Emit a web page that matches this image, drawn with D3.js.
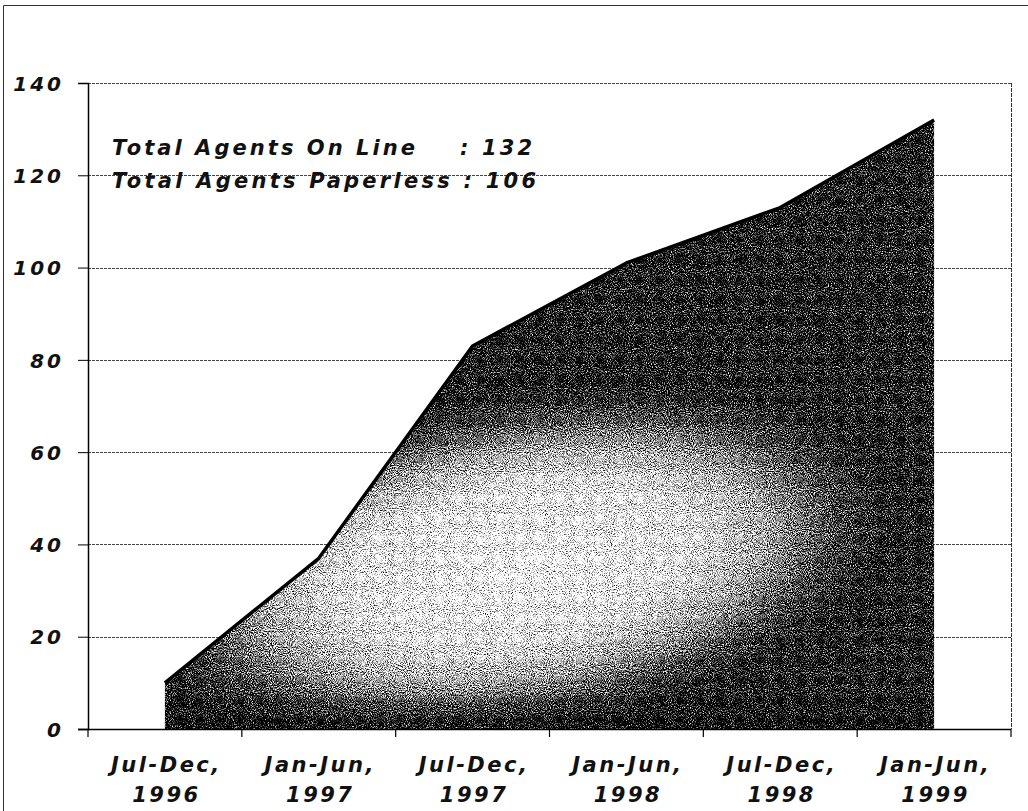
<!DOCTYPE html>
<html>
<head>
<meta charset="utf-8">
<script src="https://cdn.jsdelivr.net/npm/d3@7"></script>
<style>
  html, body { margin: 0; padding: 0; background: #fff; }
  svg { display: block; }
  .lbl { font-family: "DejaVu Sans", sans-serif; font-weight: bold; font-style: oblique; fill: #111; }
</style>
</head>
<body>
<svg id="chart" width="1028" height="811"></svg>
<script>
// Half-year periods and the running count of agents on line
const categories = ["Jul-Dec, 1996", "Jan-Jun, 1997", "Jul-Dec, 1997", "Jan-Jun, 1998", "Jul-Dec, 1998", "Jan-Jun, 1999"];
const agentsOnLine = [10, 37, 83, 101, 113, 132];
const yTicks = [0, 20, 40, 60, 80, 100, 120, 140];
const totalOnLine = 132;
const totalPaperless = 106;

const svg = d3.select("#chart");
const W = 1028, H = 811;
const plot = { left: 88, right: 1011, top: 83, bottom: 729 };

const x = d3.scaleBand().domain(categories).range([plot.left, plot.right]);
const y = d3.scaleLinear().domain([0, 140]).range([plot.bottom, plot.top]);
const cx = d => x(d) + x.bandwidth() / 2;

const defs = svg.append("defs");

// Light, slightly tilted oval low in the middle of the area, dark toward the edges
const grad = defs.append("radialGradient")
  .attr("id", "areaFill")
  .attr("gradientUnits", "userSpaceOnUse")
  .attr("cx", 0).attr("cy", 0).attr("r", 1)
  .attr("gradientTransform", "translate(515,565) rotate(-10) scale(380,168)");
[[0, "#f2f2f2"], [0.45, "#dcdcdc"], [0.65, "#a4a4a4"], [0.85, "#4c4c4c"], [1, "#242424"]]
  .forEach(([o, c]) => grad.append("stop").attr("offset", o).attr("stop-color", c));

// Darker strip along the baseline
const base = defs.append("linearGradient")
  .attr("id", "baseShade")
  .attr("gradientUnits", "userSpaceOnUse")
  .attr("x1", 0).attr("x2", 0).attr("y1", plot.bottom - 40).attr("y2", plot.bottom);
base.append("stop").attr("offset", 0).attr("stop-color", "#000").attr("stop-opacity", 0);
base.append("stop").attr("offset", 1).attr("stop-color", "#000").attr("stop-opacity", 0.5);

// Printed-halftone grain over the fill
const f = defs.append("filter")
  .attr("id", "grain")
  .attr("filterUnits", "userSpaceOnUse")
  .attr("x", 0).attr("y", 0).attr("width", W).attr("height", H)
  .attr("color-interpolation-filters", "sRGB");
f.append("feTurbulence").attr("type", "fractalNoise").attr("baseFrequency", 0.95)
  .attr("numOctaves", 2).attr("seed", 7).attr("result", "noise");
f.append("feColorMatrix").attr("in", "noise").attr("type", "matrix")
  .attr("values", "1 0 0 0 0  1 0 0 0 0  1 0 0 0 0  0 0 0 0 1").attr("result", "gray");
f.append("feComposite").attr("in", "SourceGraphic").attr("in2", "gray")
  .attr("operator", "arithmetic").attr("k1", 0).attr("k2", 1).attr("k3", 2.4).attr("k4", -1.2)
  .attr("result", "mixed");
const ct = f.append("feComponentTransfer").attr("in", "mixed").attr("result", "contrast");
["feFuncR", "feFuncG", "feFuncB"].forEach(fn =>
  ct.append(fn).attr("type", "linear").attr("slope", 1.35).attr("intercept", -0.17));
f.append("feComposite").attr("in", "contrast").attr("in2", "SourceGraphic").attr("operator", "in");

// Outer frame
svg.append("path")
  .attr("d", `M3.5,${H} L3.5,5.5 L${W},5.5`)
  .attr("fill", "none").attr("stroke", "#333").attr("stroke-width", 1);

// Horizontal gridlines
svg.append("g").selectAll("line")
  .data(yTicks.filter(v => v > 0))
  .join("line")
  .attr("x1", plot.left).attr("x2", plot.right)
  .attr("y1", d => Math.round(y(d)) + 0.5).attr("y2", d => Math.round(y(d)) + 0.5)
  .attr("stroke", "#444").attr("stroke-width", 1).attr("stroke-dasharray", "3,1");

// Right edge of the plot
svg.append("line")
  .attr("x1", plot.right + 0.5).attr("x2", plot.right + 0.5)
  .attr("y1", plot.top).attr("y2", plot.bottom)
  .attr("stroke", "#333").attr("stroke-width", 1).attr("stroke-dasharray", "4,1");

// Area
const area = d3.area()
  .x(d => cx(d.cat))
  .y0(y(0))
  .y1(d => y(d.v));
const series = categories.map((c, i) => ({ cat: c, v: agentsOnLine[i] }));

const areaG = svg.append("g").attr("filter", "url(#grain)");
areaG.append("path").datum(series).attr("d", area).attr("fill", "url(#areaFill)");
areaG.append("path").datum(series).attr("d", area).attr("fill", "url(#baseShade)");

svg.append("path")
  .datum(series)
  .attr("d", d3.line().x(d => cx(d.cat)).y(d => y(d.v)))
  .attr("fill", "none").attr("stroke", "#000").attr("stroke-width", 3.5)
  .attr("stroke-linejoin", "round");

// Y axis
const yAxis = svg.append("g")
  .attr("transform", `translate(${plot.left},0)`)
  .call(d3.axisLeft(y).tickValues(yTicks).tickSize(10).tickPadding(14).tickFormat(d3.format("d")));
yAxis.select(".domain").attr("stroke", "#000").attr("stroke-width", 1.5);
yAxis.selectAll(".tick line").attr("stroke", "#000");
yAxis.selectAll(".tick text")
  .attr("class", "lbl")
  .style("font-size", "20px")
  .style("letter-spacing", "3px")
  .attr("dy", "0.36em");

// X axis: ticks on period boundaries, labels centred in each period
const xg = svg.append("g");
xg.append("line")
  .attr("x1", plot.left - 10).attr("x2", plot.right)
  .attr("y1", plot.bottom + 0.5).attr("y2", plot.bottom + 0.5)
  .attr("stroke", "#000").attr("stroke-width", 1.5);
const bounds = categories.map(c => x(c)).concat([x(categories[categories.length - 1]) + x.bandwidth()]);
xg.selectAll("line.tk")
  .data(bounds)
  .join("line").attr("class", "tk")
  .attr("x1", d => d).attr("x2", d => d)
  .attr("y1", plot.bottom).attr("y2", plot.bottom + 8)
  .attr("stroke", "#000").attr("stroke-width", 1.2);
const xl = xg.selectAll("text")
  .data(categories)
  .join("text")
  .attr("class", "lbl")
  .attr("text-anchor", "middle")
  .style("font-size", "21px")
  .style("letter-spacing", "2.5px")
  .attr("y", plot.bottom + 43);
xl.each(function (d) {
  const parts = d.split(", ");
  const t = d3.select(this);
  t.append("tspan").attr("x", cx(d) + 1.5).text(parts[0] + ",");
  t.append("tspan").attr("x", cx(d) + 1.5).attr("dy", 30).text(parts[1]);
});

// Totals
const note = svg.append("g");
note.append("text").attr("class", "lbl").style("font-size", "21px")
  .attr("x", 112).attr("y", 155)
  .attr("textLength", 303).attr("lengthAdjust", "spacing")
  .text("Total Agents On Line");
note.append("text").attr("class", "lbl").style("font-size", "21px")
  .attr("x", 460).attr("y", 155)
  .attr("textLength", 72).attr("lengthAdjust", "spacing")
  .text(": " + totalOnLine);
note.append("text").attr("class", "lbl").style("font-size", "21px")
  .attr("x", 112).attr("y", 188)
  .attr("textLength", 424).attr("lengthAdjust", "spacing")
  .text("Total Agents Paperless : " + totalPaperless);
</script>
</body>
</html>
